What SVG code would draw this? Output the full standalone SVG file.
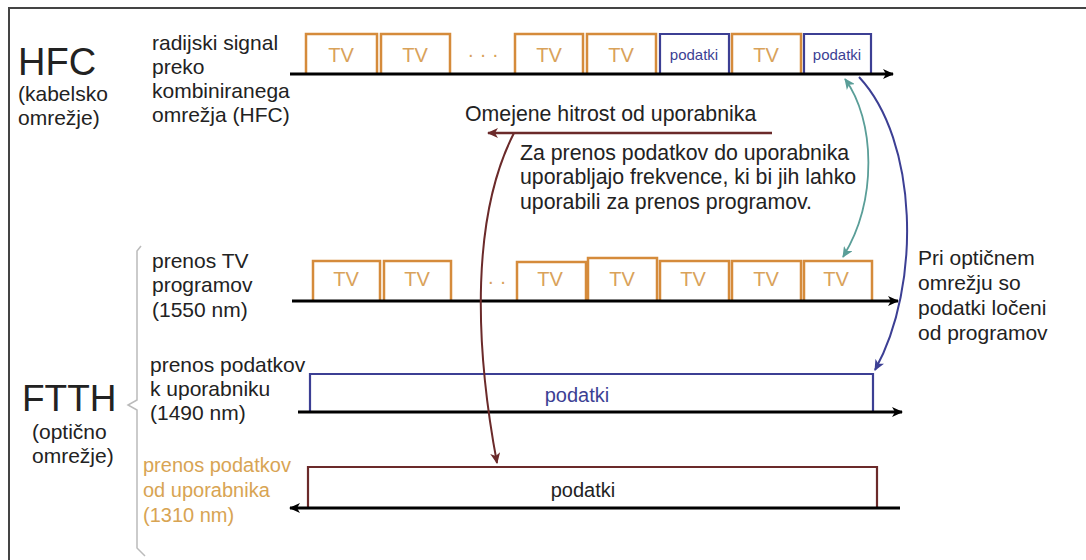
<svg xmlns="http://www.w3.org/2000/svg" width="1086" height="560" viewBox="0 0 1086 560">
<style>
text{font-family:"Liberation Sans",Arial,sans-serif;fill:#222}
.lbl{font-size:21px}
.big{font-size:38px}
.note{font-size:21.3px}
.tv{font-size:20px;fill:#d9a25a;text-anchor:middle}
.pd{font-size:15px;fill:#3c3f94;text-anchor:middle}
.or{fill:none;stroke:#d58b3b;stroke-width:2.5}
.bl{fill:none;stroke:#3c3f94;stroke-width:2.2}
.br{fill:none;stroke:#6b2a2a;stroke-width:2.2}
.axis{fill:none;stroke:#000;stroke-width:3}
</style>
<defs>
<marker id="ak" markerWidth="12" markerHeight="10" refX="10" refY="5" orient="auto" markerUnits="userSpaceOnUse"><path d="M0,0 L11,5 L0,10 L3,5 Z" fill="#000"/></marker>
<marker id="at" markerWidth="12" markerHeight="10" refX="10" refY="5" orient="auto-start-reverse" markerUnits="userSpaceOnUse"><path d="M0,0 L11,5 L0,10 L3,5 Z" fill="#5a9e98"/></marker>
<marker id="ab" markerWidth="12" markerHeight="10" refX="10" refY="5" orient="auto" markerUnits="userSpaceOnUse"><path d="M0,0 L11,5 L0,10 L3,5 Z" fill="#3c3f94"/></marker>
<marker id="ar" markerWidth="12" markerHeight="10" refX="10" refY="5" orient="auto" markerUnits="userSpaceOnUse"><path d="M0,0 L11,5 L0,10 L3,5 Z" fill="#6b2a2a"/></marker>
</defs>
<rect width="1086" height="560" fill="#fff"/>
<path d="M9,560 V8 H1086" fill="none" stroke="#444" stroke-width="2"/>

<g id="hfc-label">
<text class="big" x="18" y="75">HFC</text>
<text class="lbl" x="18" y="101">(kabelsko</text>
<text class="lbl" x="18" y="125">omrežje)</text>
</g>
<g id="hfc-desc">
<text class="lbl" x="152" y="50">radijski signal</text>
<text class="lbl" x="152" y="74">preko</text>
<text class="lbl" x="152" y="98">kombiniranega</text>
<text class="lbl" x="152" y="122">omrežja (HFC)</text>
</g>
<g id="hfc-row">
<path class="or" d="M306,74 V34 H377 V74 M381,74 V34 H450 V74 M515,74 V34 H583 V74 M587,74 V34 H656 V74 M732,74 V34 H801 V74"/>
<path class="bl" d="M660,74 V34 H729 V74 M804,74 V34 H871 V74"/>
<text class="tv" x="341" y="62">TV</text>
<text class="tv" x="415" y="62">TV</text>
<text class="tv" x="549" y="62">TV</text>
<text class="tv" x="621" y="62">TV</text>
<text class="tv" x="766" y="62">TV</text>
<text class="pd" x="694" y="60">podatki</text>
<text class="pd" x="837" y="60">podatki</text>
<text x="483" y="61" style="font-size:20px;fill:#d9a25a;text-anchor:middle">· · ·</text>
<line class="axis" x1="290" y1="74" x2="893" y2="74" marker-end="url(#ak)"/>
</g>

<g id="brace">
<path d="M141,246 L137,251 V400 L128,405 L137,410 V548 L145,556" fill="none" stroke="#bbb" stroke-width="1.5"/>
</g>
<g id="ftth-label">
<text class="big" x="22" y="411" style="font-size:37px">FTTH</text>
<text class="lbl" x="32" y="439">(optično</text>
<text class="lbl" x="32" y="463">omrežje)</text>
</g>

<g id="tv-row">
<text class="lbl" x="152" y="268">prenos TV</text>
<text class="lbl" x="152" y="292">programov</text>
<text class="lbl" x="152" y="317">(1550 nm)</text>
<path class="or" d="M313,301 V261 H380 V301 M384,301 V261 H451 V301 M517,301 V262 H586 V301 M588,301 V258 H657 V301 M660,301 V261 H729 V301 M732,301 V261 H801 V301 M804,301 V261 H872 V301"/>
<text class="tv" x="346" y="286">TV</text>
<text class="tv" x="417" y="286">TV</text>
<text class="tv" x="550" y="286">TV</text>
<text class="tv" x="622" y="286">TV</text>
<text class="tv" x="693" y="286">TV</text>
<text class="tv" x="766" y="286">TV</text>
<text class="tv" x="836" y="286">TV</text>
<text x="497" y="288" style="font-size:20px;fill:#d9a25a;text-anchor:middle">· ·</text>
<line class="axis" x1="292" y1="301" x2="898" y2="301" marker-end="url(#ak)"/>
</g>

<g id="down-row">
<text class="lbl" x="150" y="372">prenos podatkov</text>
<text class="lbl" x="150" y="396">k uporabniku</text>
<text class="lbl" x="150" y="420">(1490 nm)</text>
<path class="bl" d="M310,412 V374 H873 V412"/>
<text x="577" y="402" style="font-size:20px;fill:#3c3f94;text-anchor:middle">podatki</text>
<line class="axis" x1="298" y1="412" x2="902" y2="412" marker-end="url(#ak)"/>
</g>

<g id="up-row">
<text x="143" y="472" style="font-size:20px;fill:#d8a453">prenos podatkov</text>
<text x="143" y="497" style="font-size:20px;fill:#d8a453">od uporabnika</text>
<text x="143" y="522" style="font-size:20px;fill:#d8a453">(1310 nm)</text>
<path class="br" d="M308,508 V467 H877 V508"/>
<text x="583" y="497" style="font-size:20px;text-anchor:middle">podatki</text>
<line class="axis" x1="900" y1="508" x2="290" y2="508" marker-end="url(#ak)"/>
</g>

<g id="notes">
<text class="note" x="465" y="121">Omejene hitrost od uporabnika</text>
<text class="note" x="520" y="160">Za prenos podatkov do uporabnika</text>
<text class="note" x="520" y="184">uporabljajo frekvence, ki bi jih lahko</text>
<text class="note" x="520" y="209">uporabili za prenos programov.</text>
<text class="lbl" x="918" y="265">Pri optičnem</text>
<text class="lbl" x="918" y="290">omrežju so</text>
<text class="lbl" x="918" y="315">podatki ločeni</text>
<text class="lbl" x="918" y="340">od programov</text>
</g>

<g id="connectors">
<path d="M845,79 C875,120 878,200 843,257" fill="none" stroke="#5a9e98" stroke-width="1.8" marker-start="url(#at)" marker-end="url(#at)"/>
<path d="M859,77 C918,140 922,285 875,370" fill="none" stroke="#3c3f94" stroke-width="2" marker-end="url(#ab)"/>
<line x1="772" y1="133" x2="488" y2="133" stroke="#6b2a2a" stroke-width="2.5" marker-end="url(#ar)"/>
<path d="M514,133 C472,215 474,340 497,463" fill="none" stroke="#6b2a2a" stroke-width="2" marker-end="url(#ar)"/>
</g>
</svg>
